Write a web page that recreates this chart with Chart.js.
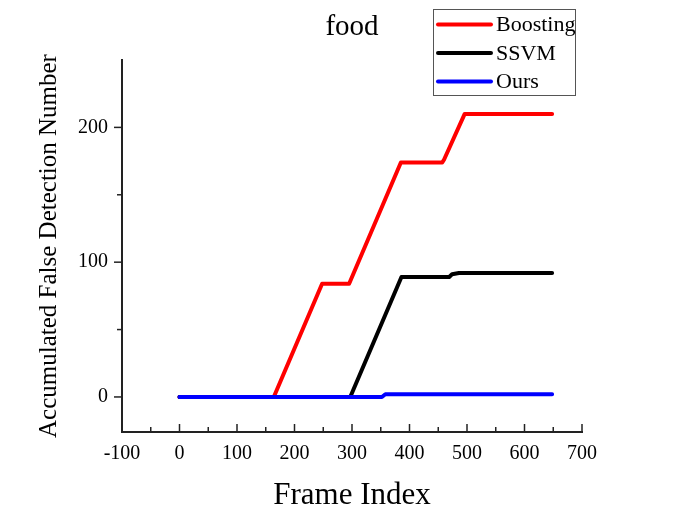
<!DOCTYPE html>
<html>
<head>
<meta charset="utf-8">
<script src="https://cdn.jsdelivr.net/npm/chart.js@4/dist/chart.umd.min.js"></script>
<style>
  html, body { margin: 0; padding: 0; background: #fff; }
  #wrap { width: 676px; height: 517px; }
</style>
</head>
<body>
<div id="wrap"><canvas id="c" width="676" height="517"></canvas></div>
<script>
// ---- data ----
const chartTitle = 'food';
const seriesNames = ['Boosting', 'SSVM', 'Ours'];
const boostingX = [0, 164, 248, 295, 385, 457, 460, 496, 648];
const boostingY = [0, 0, 84, 84, 174, 174, 176, 210, 210];
const ssvmX = [0, 297, 386, 469, 474, 486, 648];
const ssvmY = [0, 0, 89, 89, 91, 92, 92];
const oursX = [0, 352, 358, 648];
const oursY = [0, 0, 2, 2];
const xTickValues = [-100, 0, 100, 200, 300, 400, 500, 600, 700];
const xMinorValues = [-50, 50, 150, 250, 350, 450, 550, 650];
const yTickValues = [0, 100, 200];
const yMinorValues = [50, 150];
const xLabel = 'Frame Index';
const yLabel = 'Accumulated False Detection Number';

const FONT = '"Liberation Serif", "Times New Roman", serif';
const colors = ['#ff0000', '#000000', '#0000ff'];

function pts(xs, ys) { return xs.map((x, i) => ({ x: x, y: ys[i] })); }

const datasets = [
  { label: seriesNames[0], data: pts(boostingX, boostingY), order: 2 },
  { label: seriesNames[1], data: pts(ssvmX, ssvmY), order: 1 },
  { label: seriesNames[2], data: pts(oursX, oursY), order: 0 }
].map((d, i) => Object.assign(d, {
  borderColor: colors[i], backgroundColor: colors[i], borderWidth: 4,
  pointRadius: 0, tension: 0, fill: false, borderCapStyle: 'round', borderJoinStyle: 'round'
}));

const decor = {
  id: 'decor',
  afterDraw(chart) {
    const ctx = chart.ctx;
    const xs = chart.scales.x, ys = chart.scales.y;
    const area = chart.chartArea;
    ctx.save();
    ctx.strokeStyle = '#222';
    ctx.lineWidth = 1.5;
    // x ticks (inward)
    const yb = area.bottom;
    xTickValues.forEach(v => { const p = xs.getPixelForValue(v); ctx.beginPath(); ctx.moveTo(p, yb); ctx.lineTo(p, yb - 8); ctx.stroke(); });
    xMinorValues.forEach(v => { const p = xs.getPixelForValue(v); ctx.beginPath(); ctx.moveTo(p, yb); ctx.lineTo(p, yb - 5); ctx.stroke(); });
    // y ticks (outward)
    const xl = area.left;
    yTickValues.forEach(v => { const p = ys.getPixelForValue(v); ctx.beginPath(); ctx.moveTo(xl, p); ctx.lineTo(xl - 8, p); ctx.stroke(); });
    yMinorValues.forEach(v => { const p = ys.getPixelForValue(v); ctx.beginPath(); ctx.moveTo(xl, p); ctx.lineTo(xl - 5, p); ctx.stroke(); });
    // title
    ctx.fillStyle = '#000';
    ctx.font = '29px ' + FONT;
    ctx.textAlign = 'center';
    ctx.textBaseline = 'middle';
    ctx.fillText(chartTitle, (area.left + area.right) / 2, 27);
    // legend
    const bx = 433.5, by = 9.5, bw = 142, bh = 86;
    ctx.lineWidth = 1;
    ctx.strokeStyle = '#555';
    ctx.strokeRect(bx, by, bw, bh);
    ctx.font = '22px ' + FONT;
    ctx.textAlign = 'left';
    const rows = [24.5, 53, 81.5];
    chart.data.datasets.forEach((d, i) => {
      ctx.strokeStyle = d.borderColor;
      ctx.lineWidth = 4;
      ctx.lineCap = 'round';
      ctx.beginPath(); ctx.moveTo(438, rows[i]); ctx.lineTo(491, rows[i]); ctx.stroke();
      ctx.fillStyle = '#000';
      ctx.fillText(d.label, 496, rows[i] + 1);
    });
    ctx.restore();
  }
};

new Chart(document.getElementById('c'), {
  type: 'line',
  data: { datasets: datasets },
  options: {
    responsive: false,
    animation: false,
    events: [],
    layout: { padding: { top: 60, right: 94, left: 0, bottom: 0 } },
    plugins: { legend: { display: false }, tooltip: { enabled: false }, title: { display: false } },
    scales: {
      x: {
        type: 'linear', min: -100, max: 700,
        grid: { display: false },
        border: { display: true, color: '#222', width: 2 },
        afterBuildTicks: s => { s.ticks = xTickValues.map(v => ({ value: v })); },
        afterFit: s => { s.height = 85; },
        ticks: { color: '#000', font: { family: FONT, size: 20 }, padding: 2, maxRotation: 0, autoSkip: false },
        title: { display: true, text: xLabel, color: '#000', font: { family: FONT, size: 31 }, padding: { top: 0, bottom: 3 } }
      },
      y: {
        type: 'linear', min: -26, max: 250,
        grid: { display: false },
        border: { display: true, color: '#222', width: 2 },
        afterBuildTicks: s => { s.ticks = yTickValues.map(v => ({ value: v })); },
        afterFit: s => { s.width = 122; },
        ticks: { color: '#000', font: { family: FONT, size: 20 }, padding: 6 },
        title: { display: true, text: yLabel, color: '#000', font: { family: FONT, size: 25 }, padding: { top: 34, bottom: 0 } }
      }
    }
  },
  plugins: [decor]
});
</script>
</body>
</html>
